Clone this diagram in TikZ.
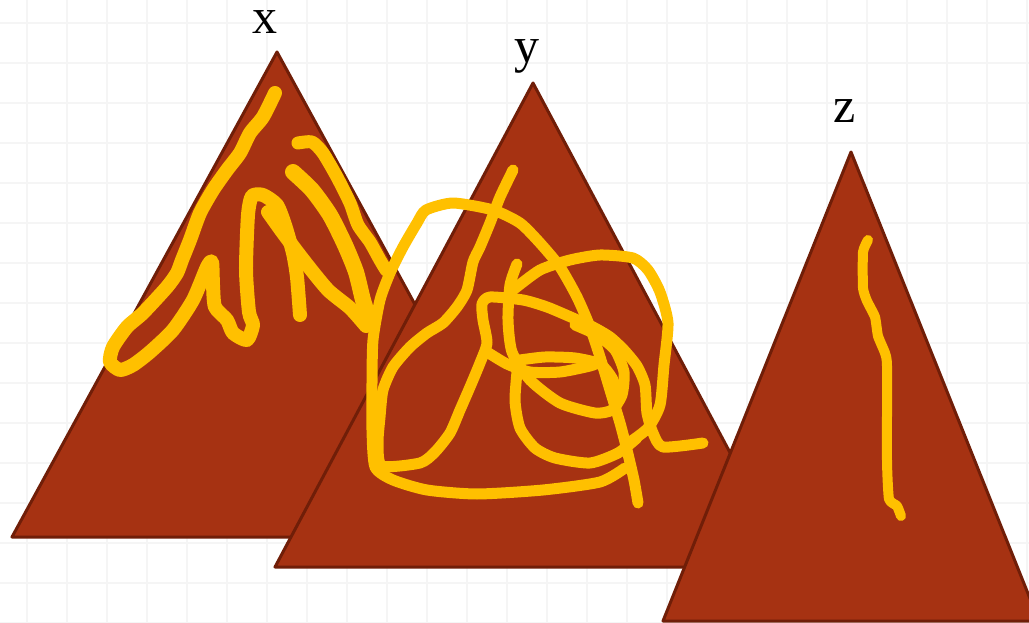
\documentclass[tikz,border=0pt]{standalone}
\usepackage{tikz}
\usetikzlibrary{positioning}
\usepackage{fontspec}
\setmainfont{Liberation Serif}
\definecolor{rock}{RGB}{166,50,18}
\definecolor{rockedge}{RGB}{112,30,8}
\definecolor{marker}{RGB}{255,192,0}
\definecolor{gridline}{RGB}{245,245,245}

\begin{document}
\begin{tikzpicture}[x=1pt,y=-1pt,
  peak/.style={fill=rock,draw=rockedge,line width=3pt,line join=round},
  scribble/.style={draw=marker,line width=11pt,line cap=round,line join=round},
  letter/.style={font=\fontsize{50}{54}\selectfont,anchor=base,inner sep=0pt}]
\useasboundingbox[fill=white] (0,0) rectangle (1029,623);
% background grid
\foreach \x in {27,67,...,1027} {
    \draw[gridline,line width=2pt] (\x,0) -- (\x,623);
}
\foreach \y in {23,63,...,623} {
    \draw[gridline,line width=2pt] (0,\y) -- (1029,\y);
}
% the three peaks
\draw[peak] (12,537) -- (277,52) -- (542,537) -- cycle;
\draw[peak] (275,567) -- (533,83) -- (791,567) -- cycle;
\draw[peak] (663,621) -- (851,152) -- (1039,621) -- cycle;
\node[letter] (xlab) at (265,34) {x};
\node[letter] (ylab) at (527,63) {y};
\node[letter] (zlab) at (845,123) {z};
% scribbles on x
\draw[scribble,line width=14pt] plot[smooth,tension=0.4] coordinates {
  (275,93) (263,117) (250,133) (240,153) (227,170) (213,190) (200,213)
  (190,240) (182,260) (177,273) (167,287) (143,313) (127,327) (113,347)
  (110,362) (120,370) (133,365) (150,352) (173,330) (193,300) (207,267)
  (212,262) (213,285) (215,307) (227,320) (233,333) (247,340) (253,325)
  (249,312) (246,270) (248,215) (252,196) (263,195) (277,205) (285,225)
  (293,253) (297,277) (300,315)};
\draw[scribble,line width=13pt] plot[smooth,tension=0.4] coordinates {
  (298,143) (312,142) (323,153) (337,177) (350,203) (358,225) (370,242)
  (380,260) (386,270)};
\draw[scribble,line width=16pt] plot[smooth,tension=0.4] coordinates {
  (293,172) (312,190) (330,215) (345,245) (356,272) (363,300) (370,322)};
\draw[scribble,line width=14pt] plot[smooth,tension=0.4] coordinates {
  (268,212) (283,233) (305,262) (328,290) (350,308) (366,326)};
% scribbles on y
\draw[scribble] plot[smooth,tension=0.4] coordinates {
  (513,170) (500,197) (490,223) (480,247) (473,262) (467,290) (457,307)
  (443,323) (427,333) (410,347) (393,367) (383,390) (380,417) (378,443)
  (382,466) (420,463) (435,452) (450,433) (460,410) (470,387) (480,363)
  (487,343) (483,320) (482,304) (490,297) (523,300) (547,307) (573,318)
  (593,327) (610,337) (624,350) (637,366) (645,385) (647,413) (653,433)
  (663,447) (703,443)};
\draw[scribble] plot[smooth,tension=0.4] coordinates {
  (625,468) (600,482) (543,490) (477,494) (427,490) (393,480) (375,467)
  (372,430) (372,383) (373,340) (380,300) (390,273) (403,247) (417,223)
  (426,210) (453,203) (493,210) (520,223) (540,243) (560,267) (577,297)
  (590,327) (600,357) (610,390) (620,423) (627,450) (634,480) (638,503)};
\draw[scribble] plot[smooth,tension=0.4] coordinates {
  (513,290) (540,270) (570,260) (600,255) (633,258) (648,270) (660,292)
  (668,323) (664,365) (660,405) (648,428) (630,442)};
\draw[scribble] plot[smooth,tension=0.4] coordinates {
  (517,264) (510,285) (508,320) (512,352) (530,380) (560,403) (595,413)
  (612,410) (622,395) (624,372) (615,350) (597,335) (575,325)};
\draw[scribble] plot[smooth,tension=0.4] coordinates {
  (487,352) (507,364) (530,372) (560,372) (590,366) (600,362)};
\draw[scribble] plot[smooth,tension=0.4] coordinates {
  (520,360) (545,357) (575,358) (600,364) (612,378) (618,395)};
\draw[scribble] plot[smooth,tension=0.4] coordinates {
  (518,362) (515,400) (520,428) (535,448) (555,458) (590,463) (618,453)
  (637,438)};
% scribble on z
\draw[scribble,line width=10pt] plot[smooth,tension=0.3] coordinates {
  (868,240) (863,252) (863,288) (867,301) (875,317) (878,336) (885,353)
  (887,366) (887,461) (889,499) (897,506) (901,516)};
\end{tikzpicture}
\end{document}
